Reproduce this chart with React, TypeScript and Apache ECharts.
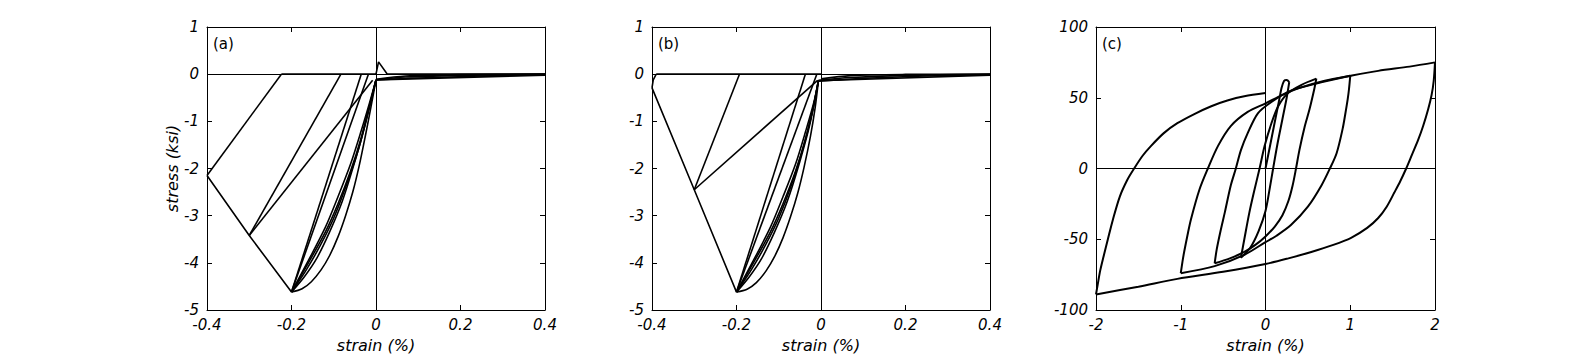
import { useEffect, useRef } from "react";
import * as echarts from "echarts";

type Pt = [number, number];

// ---------- Panel (a) ----------
const aEnvelope: Pt[] = [[-0.2, -4.62], [-0.3, -3.42], [-0.4, -2.15]];
const aUnload40: Pt[] = [[-0.4, -2.15], [-0.224, 0]];
const aZero: Pt[] = [[-0.224, 0], [0, 0]];
const aUnload30: Pt[] = [[-0.3, -3.42], [-0.083, 0]];
const aReload30: Pt[] = [[-0.3, -3.42], [-0.008, -0.13]];
const aUnload20a: Pt[] = [[-0.2, -4.62], [-0.035, 0]];
const aUnload20b: Pt[] = [[-0.2, -4.62], [-0.018, 0]];
const aSkeleton: Pt[] = [[-0.2, -4.62], [-0.175, -4.55], [-0.153, -4.4], [-0.13, -4.15], [-0.11, -3.85], [-0.09, -3.45], [-0.072, -3.0], [-0.055, -2.5], [-0.04, -1.95], [-0.025, -1.3], [-0.012, -0.7], [0, -0.12]];
const aBundle1: Pt[] = [[-0.2, -4.62], [-0.17, -4.3], [-0.14, -3.9], [-0.11, -3.35], [-0.08, -2.7], [-0.05, -1.85], [-0.025, -1.05], [0, -0.12]];
const aBundle2: Pt[] = [[-0.2, -4.62], [-0.165, -4.15], [-0.13, -3.6], [-0.1, -3.05], [-0.07, -2.35], [-0.04, -1.55], [-0.02, -0.85], [0, -0.12]];
const aBundle3: Pt[] = [[-0.2, -4.62], [-0.16, -4.0], [-0.12, -3.35], [-0.09, -2.75], [-0.06, -2.05], [-0.035, -1.35], [-0.015, -0.65], [0, -0.12]];
const aBundle4: Pt[] = [[-0.2, -4.62], [-0.16, -3.95], [-0.12, -3.25], [-0.09, -2.6], [-0.06, -1.9], [-0.035, -1.2], [-0.015, -0.6], [0, -0.12]];
const aTension: Pt[] = [[0, 0], [0.006, 0.26], [0.026, 0.01], [0.4, 0]];
const aPos1: Pt[] = [[0, -0.12], [0.4, -0.02]];
const aPos2: Pt[] = [[0, -0.12], [0.07, -0.06], [0.23, -0.02], [0.4, -0.005]];
const aPos3: Pt[] = [[0, -0.11], [0.07, -0.04], [0.2, -0.01], [0.4, 0]];
const aPos4: Pt[] = [[0, -0.12], [0.1, -0.08], [0.25, -0.04], [0.4, -0.01]];

// ---------- Panel (b) ----------
const bEnvelope: Pt[] = [[-0.4, -0.29], [-0.3, -2.45], [-0.2, -4.62]];
const bUnload40: Pt[] = [[-0.4, -0.29], [-0.397, -0.12], [-0.39, 0]];
const bZero: Pt[] = [[-0.39, 0], [0, 0]];
const bUnload30: Pt[] = [[-0.3, -2.45], [-0.193, 0]];
const bReload30: Pt[] = [[-0.3, -2.45], [-0.008, -0.13]];
const bUnload20a: Pt[] = [[-0.2, -4.62], [-0.037, 0]];
const bUnload20b: Pt[] = [[-0.2, -4.62], [-0.01, 0]];
const bSkeleton: Pt[] = [[-0.2, -4.62], [-0.175, -4.56], [-0.153, -4.42], [-0.13, -4.17], [-0.11, -3.87], [-0.09, -3.47], [-0.072, -3.02], [-0.055, -2.52], [-0.04, -1.97], [-0.025, -1.32], [-0.014, -0.72], [-0.006, -0.13]];
const bBundle1: Pt[] = [[-0.2, -4.62], [-0.17, -4.3], [-0.14, -3.9], [-0.11, -3.35], [-0.08, -2.7], [-0.05, -1.85], [-0.026, -1.05], [-0.006, -0.13]];
const bBundle2: Pt[] = [[-0.2, -4.62], [-0.165, -4.15], [-0.13, -3.6], [-0.1, -3.05], [-0.07, -2.35], [-0.042, -1.55], [-0.022, -0.85], [-0.006, -0.13]];
const bBundle3: Pt[] = [[-0.2, -4.62], [-0.16, -4.0], [-0.12, -3.35], [-0.09, -2.75], [-0.06, -2.05], [-0.036, -1.35], [-0.017, -0.65], [-0.006, -0.13]];
const bBundle4: Pt[] = [[-0.2, -4.62], [-0.16, -3.95], [-0.12, -3.25], [-0.09, -2.6], [-0.06, -1.9], [-0.036, -1.2], [-0.017, -0.6], [-0.006, -0.13]];
const bPos1: Pt[] = [[-0.006, -0.14], [0.4, -0.02]];
const bPos2: Pt[] = [[-0.006, -0.13], [0.07, -0.07], [0.23, -0.02], [0.4, -0.005]];
const bPos3: Pt[] = [[0, -0.1], [0.07, -0.03], [0.2, -0.005], [0.4, 0]];
const bPos4: Pt[] = [[-0.006, -0.15], [0.1, -0.09], [0.25, -0.04], [0.4, -0.01]];

// ---------- Panel (c) ----------
const cInitial: Pt[] = [[0, 0], [0.1, 30], [0.16, 48], [0.19, 57], [0.22, 62], [0.25, 62.5], [0.28, 61]];
const cUnload1: Pt[] = [[0.28, 61], [0.25, 50], [0.2, 35], [0.14, 17], [0.09, 0], [0.05, -14], [0, -30], [-0.08, -44], [-0.18, -56], [-0.29, -63]];
const cReload1: Pt[] = [[-0.29, -63], [-0.25, -50], [-0.19, -31], [-0.13, -15], [-0.07, 0], [-0.01, 16], [0.07, 32], [0.15, 44], [0.26, 53], [0.42, 59], [0.6, 63.5]];
const cUnload2: Pt[] = [[0.6, 63.5], [0.575, 56], [0.52, 42], [0.46, 29], [0.4, 13], [0.36, 0], [0.32, -12], [0.27, -23], [0.2, -33], [0.11, -41], [0, -48], [-0.12, -54], [-0.25, -59], [-0.42, -63.5], [-0.6, -67]];
const cReload2: Pt[] = [[-0.6, -67], [-0.575, -57], [-0.53, -44], [-0.48, -31], [-0.41, -12], [-0.35, 0], [-0.29, 13], [-0.21, 25], [-0.09, 39], [0.07, 47], [0.3, 55], [0.6, 60], [1.0, 65.5]];
const cUnload3: Pt[] = [[1.0, 65.5], [0.985, 56], [0.97, 49], [0.94, 38], [0.91, 28], [0.84, 11], [0.76, 0], [0.66, -12], [0.5, -27], [0.3, -40], [0.13, -47.5], [0, -52], [-0.25, -61], [-0.6, -69], [-1.0, -74]];
const cReload3: Pt[] = [[-1.0, -74], [-0.98, -66], [-0.96, -59], [-0.92, -47], [-0.88, -36], [-0.78, -15], [-0.68, 0], [-0.56, 16], [-0.41, 30], [-0.21, 40], [0, 46], [0.2, 52], [0.4, 57], [0.7, 62], [1.0, 65.5], [1.33, 69], [1.7, 72], [2.0, 75]];
const cUnload4: Pt[] = [[2.0, 75], [1.985, 62], [1.96, 52], [1.92, 42], [1.86, 30], [1.8, 20], [1.73, 10], [1.66, 0], [1.59, -9], [1.52, -17], [1.43, -27], [1.33, -35], [1.2, -42], [1.01, -49], [0.8, -54], [0.54, -59], [0.27, -63.5], [0, -67.5], [-0.5, -73], [-1.04, -78], [-1.5, -83.5], [-2.0, -89]];
const cReload4: Pt[] = [[-2.0, -89], [-1.98, -82], [-1.95, -72], [-1.91, -62], [-1.86, -50], [-1.8, -36], [-1.72, -20], [-1.63, -8], [-1.55, 0], [-1.45, 9], [-1.35, 16], [-1.2, 25], [-1.04, 32], [-0.84, 38.5], [-0.64, 44], [-0.45, 48], [-0.25, 51], [0, 53.3]];

const panelA: Pt[][] = [aEnvelope, aUnload40, aZero, aUnload30, aReload30, aUnload20a, aUnload20b, aSkeleton, aBundle1, aBundle2, aBundle3, aBundle4, aTension, aPos1, aPos2, aPos3, aPos4];
const panelB: Pt[][] = [bEnvelope, bUnload40, bZero, bUnload30, bReload30, bUnload20a, bUnload20b, bSkeleton, bBundle1, bBundle2, bBundle3, bBundle4, bPos1, bPos2, bPos3, bPos4];
const panelC: Pt[][] = [cInitial, cUnload1, cReload1, cUnload2, cReload2, cUnload3, cReload3, cUnload4, cReload4];

// branches drawn as smooth curves
const curvedA = [aSkeleton, aBundle1, aBundle2, aBundle3, aBundle4, aPos2, aPos3, aPos4];
const curvedB = [bSkeleton, bBundle1, bBundle2, bBundle3, bBundle4, bPos2, bPos3, bPos4];

// axis ranges [min, max, interval]
const xRangeAB = [-0.4, 0.4, 0.2];
const yRangeAB = [-5, 1, 1];
const xRangeC = [-2, 2, 1];
const yRangeC = [-100, 100, 50];

const panelLabels = ["(a)", "(b)", "(c)"];
const xAxisTitle = "strain (%)";
const yAxisTitle = "stress (ksi)";

const FONT = "DejaVu Sans";

export default function App() {
  const ref = useRef<HTMLDivElement>(null);
  useEffect(() => {
    if (!ref.current) return;
    const chart = echarts.init(ref.current, undefined, { renderer: "svg" });
    const grids = [
      { left: 207, top: 27, width: 338, height: 284 },
      { left: 652, top: 27, width: 338, height: 284 },
      { left: 1096, top: 27, width: 339, height: 284 },
    ];
    const panels = [panelA, panelB, panelC];
    const xr = [xRangeAB, xRangeAB, xRangeC];
    const yr = [yRangeAB, yRangeAB, yRangeC];
    const axisLine = { show: true, onZero: false, lineStyle: { color: "#000", width: 1 } };
    const tick = { show: true, inside: true, length: 5, lineStyle: { color: "#000", width: 1 } };
    const lbl = { color: "#000", fontFamily: FONT, fontSize: 15, fontStyle: "italic" as const, lineHeight: 13 };
    const xAxes: any[] = [];
    const yAxes: any[] = [];
    grids.forEach((_, i) => {
      const [xmin, xmax, xint] = xr[i];
      const [ymin, ymax, yint] = yr[i];
      xAxes.push({
        type: "value", gridIndex: i, position: "bottom", min: xmin, max: xmax, interval: xint,
        axisLine, axisTick: tick, splitLine: { show: false },
        axisLabel: { ...lbl, margin: 8 },
        name: xAxisTitle, nameLocation: "middle", nameGap: 27,
        nameTextStyle: { color: "#000", fontFamily: FONT, fontSize: 16, fontStyle: "italic" },
      });
      xAxes.push({
        type: "value", gridIndex: i, position: "top", min: xmin, max: xmax, interval: xint,
        axisLine, axisTick: tick, splitLine: { show: false }, axisLabel: { show: false },
      });
      yAxes.push({
        type: "value", gridIndex: i, position: "left", min: ymin, max: ymax, interval: yint,
        axisLine, axisTick: tick, splitLine: { show: false },
        axisLabel: { ...lbl, margin: 8 },
        ...(i === 0
          ? {
              name: yAxisTitle, nameLocation: "middle", nameGap: 26,
              nameTextStyle: { color: "#000", fontFamily: FONT, fontSize: 16, fontStyle: "italic" },
            }
          : {}),
      });
      yAxes.push({
        type: "value", gridIndex: i, position: "right", min: ymin, max: ymax, interval: yint,
        axisLine, axisTick: tick, splitLine: { show: false }, axisLabel: { show: false },
      });
    });
    const series: any[] = [];
    panels.forEach((branches, i) => {
      branches.forEach((b, j) => {
        const curved = i === 2 || curvedA.includes(b) || curvedB.includes(b);
        series.push({
          type: "line", xAxisIndex: i * 2, yAxisIndex: i * 2, data: b,
          showSymbol: false, symbol: "none", silent: true,
          smooth: curved ? 0.3 : false,
          lineStyle: { color: "#000", width: i === 2 ? 2 : 1.6 },
          ...(j === 0
            ? {
                markLine: {
                  silent: true, symbol: "none", label: { show: false },
                  lineStyle: { color: "#000", width: 1, type: "solid" },
                  data: [{ xAxis: 0 }, { yAxis: 0 }],
                },
              }
            : {}),
        });
      });
    });
    chart.setOption({
      animation: false,
      backgroundColor: "#fff",
      grid: grids,
      xAxis: xAxes,
      yAxis: yAxes,
      series,
      graphic: grids.map((g, i) => ({
        type: "text", left: g.left + 6, top: g.top + 9,
        style: { text: panelLabels[i], fill: "#000", font: `15px '${FONT}'` },
      })),
    });
    return () => chart.dispose();
  }, []);
  return (
    <div
      ref={ref}
      style={{ position: "fixed", left: 0, top: 0, width: 1584, height: 358, background: "#fff" }}
    />
  );
}
